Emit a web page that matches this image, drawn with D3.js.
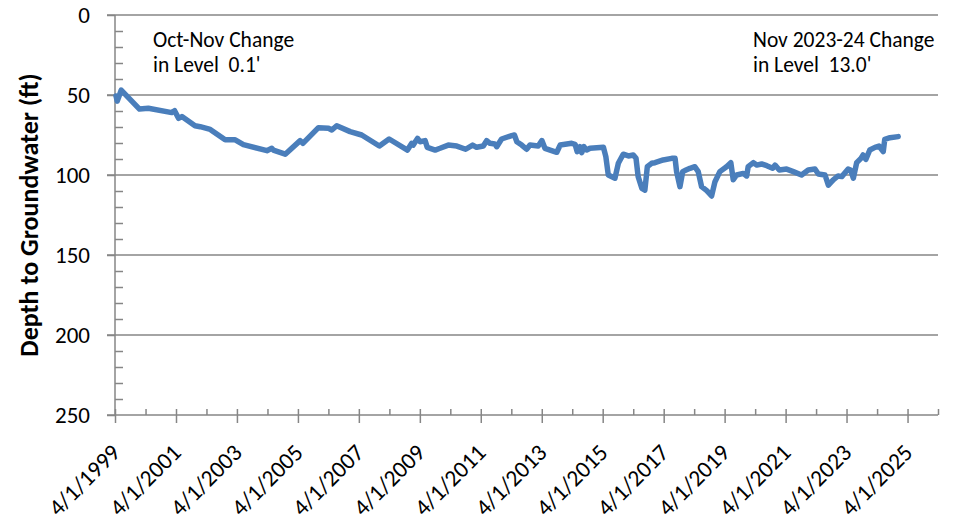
<!DOCTYPE html>
<html>
<head>
<meta charset="utf-8">
<script src="https://cdn.jsdelivr.net/npm/d3@7"></script>
<style>
  body { margin: 0; background: #fff; }
  svg { font-family: Carlito, Calibri, Lato, sans-serif; }
</style>
</head>
<body>
<div id="chart"></div>
<script>
var yearFrac = [
  1999.28, 1999.32, 1999.45, 2000.05, 2000.34, 2001.11, 2001.20, 2001.33, 2001.44, 2001.87,
  2002.04, 2002.37, 2002.86, 2003.19, 2003.46, 2004.23, 2004.39, 2004.44, 2004.83, 2005.32,
  2005.41, 2005.92, 2006.25, 2006.36, 2006.52, 2006.96, 2007.34, 2007.92, 2008.24, 2008.84,
  2008.98, 2009.03, 2009.17, 2009.25, 2009.42, 2009.49, 2009.75, 2009.91, 2010.18, 2010.46,
  2010.75, 2010.98, 2011.11, 2011.33, 2011.44, 2011.55, 2011.71, 2011.77, 2011.93, 2012.26,
  2012.35, 2012.43, 2012.59, 2012.75, 2012.86, 2013.13, 2013.25, 2013.35, 2013.74, 2013.85,
  2014.23, 2014.34, 2014.41, 2014.50, 2014.56, 2014.63, 2014.72, 2014.83, 2015.27, 2015.35,
  2015.43, 2015.65, 2015.76, 2015.92, 2016.09, 2016.25, 2016.34, 2016.41, 2016.53, 2016.63,
  2016.71, 2016.85, 2016.96, 2017.23, 2017.51, 2017.62, 2017.67, 2017.78, 2017.87, 2017.98,
  2018.11, 2018.27, 2018.38, 2018.49, 2018.66, 2018.82, 2018.93, 2019.09, 2019.31, 2019.45,
  2019.53, 2019.64, 2019.86, 2019.97, 2020.02, 2020.19, 2020.30, 2020.46, 2020.63, 2020.82,
  2020.90, 2021.04, 2021.28, 2021.50, 2021.77, 2021.99, 2022.21, 2022.32, 2022.54, 2022.65,
  2022.81, 2022.97, 2023.09, 2023.30, 2023.38, 2023.47, 2023.58, 2023.72, 2023.79, 2023.88,
  2024.01, 2024.18, 2024.31, 2024.45, 2024.50, 2024.67, 2024.94
];

// Depth to groundwater (ft)
var depthFt = [
  50.6, 53.8, 47.0, 58.8, 58.3, 61.0, 59.8, 64.6, 63.5, 69.2,
  69.8, 71.5, 78.0, 78.0, 81.0, 84.8, 83.3, 84.4, 87.0, 78.5,
  80.2, 70.4, 70.8, 71.9, 69.2, 72.9, 75.0, 81.9, 77.5, 84.4,
  80.2, 81.3, 77.1, 79.2, 78.5, 82.7, 84.4, 83.3, 81.3, 81.9,
  83.9, 81.3, 82.7, 81.9, 78.5, 80.2, 80.6, 82.3, 77.5, 75.4,
  75.0, 79.2, 81.3, 83.9, 81.3, 81.9, 78.5, 83.3, 85.8, 81.3,
  80.2, 80.8, 85.4, 82.3, 86.0, 82.3, 84.4, 83.3, 82.7, 88.5,
  100.0, 102.0, 92.7, 87.0, 88.1, 87.5, 89.6, 101.0, 108.3, 109.4,
  94.8, 92.7, 92.3, 90.6, 89.6, 89.6, 97.9, 107.3, 97.9, 96.9,
  95.8, 94.8, 97.9, 107.3, 109.8, 113.1, 104.2, 97.9, 94.8, 92.3,
  103.0, 100.0, 99.0, 100.6, 94.8, 92.3, 93.8, 93.1, 94.2, 95.8,
  93.8, 96.9, 96.3, 97.9, 100.0, 96.9, 96.3, 99.4, 100.0, 106.3,
  103.0, 100.6, 101.0, 96.3, 96.9, 102.0, 92.3, 89.6, 87.5, 90.2,
  84.4, 82.7, 81.9, 85.4, 77.7, 76.7, 76.0
];

// Axis settings
var xStartYear = 1999;
var xEndYear = 2026;
var yTicks = [0, 50, 100, 150, 200, 250];
var yTitle = "Depth to Groundwater (ft)";
var noteLeft = ["Oct-Nov Change", "in Level  0.1'"];
var noteRight = ["Nov 2023-24 Change", "in Level  13.0'"];

// SVG sizes
var width = 955;
var height = 525;
var plotLeft = 115;
var plotRight = 938;
var plotTop = 15;
var plotBottom = 415;
var gray = "#868686";

// turn decimal year into a Date
function toDate(yf) {
  var y = Math.floor(yf);
  var start = new Date(y, 0, 1);
  var end = new Date(y + 1, 0, 1);
  return new Date(start.getTime() + (yf - y) * (end - start));
}

var data = yearFrac.map(function(yf, i) {
  return { date: toDate(yf), depth: depthFt[i] };
});

var svg = d3.select("#chart")
  .append("svg")
  .attr("width", width)
  .attr("height", height);

var xScale = d3.scaleTime()
  .domain([new Date(xStartYear, 3, 1), new Date(xEndYear, 3, 1)])
  .range([plotLeft, plotRight]);

var yScale = d3.scaleLinear()
  .domain([0, 250])
  .range([plotTop, plotBottom]);

// Gridlines
svg.append("g")
  .selectAll("line")
  .data(yTicks.slice(0, -1))
  .enter()
  .append("line")
  .attr("x1", plotLeft - 8)
  .attr("x2", plotRight)
  .attr("y1", function(d) { return yScale(d); })
  .attr("y2", function(d) { return yScale(d); })
  .attr("stroke", gray)
  .attr("stroke-width", 1.5);

// y axis: major ticks outside, minor ticks inside
var yAxis = d3.axisLeft(yScale)
  .tickValues(yTicks)
  .tickSize(8)
  .tickPadding(17)
  .tickFormat(d3.format("d"));

var yG = svg.append("g")
  .attr("transform", `translate(${plotLeft}, 0)`)
  .call(yAxis);

var yMinor = d3.axisRight(yScale)
  .tickValues(d3.range(0, 251, 10).filter(function(d) { return d % 50 !== 0; }))
  .tickSize(8)
  .tickFormat("");

svg.append("g")
  .attr("transform", `translate(${plotLeft}, 0)`)
  .call(yMinor);

// x axis: major every 2 years crossing, minor every year inside
var majorDates = d3.range(xStartYear, xEndYear, 2).map(function(y) { return new Date(y, 3, 1); });
var minorDates = d3.range(xStartYear + 1, xEndYear + 1, 2).map(function(y) { return new Date(y, 3, 1); });

svg.append("g")
  .attr("transform", `translate(0, ${plotBottom})`)
  .call(d3.axisTop(xScale).tickValues(minorDates).tickSize(6).tickFormat(""));

var xAxis = d3.axisBottom(xScale)
  .tickValues(majorDates)
  .tickSize(8)
  .tickFormat(function(d) { return (d.getMonth() + 1) + "/" + d.getDate() + "/" + d.getFullYear(); });

var xG = svg.append("g")
  .attr("transform", `translate(0, ${plotBottom})`)
  .call(xAxis);

// upper half of the crossing major ticks
svg.append("g")
  .attr("transform", `translate(0, ${plotBottom})`)
  .call(d3.axisTop(xScale).tickValues(majorDates).tickSize(6).tickFormat(""));

// drop d3's default sans-serif so the labels use the page font
yG.attr("font-family", null);
xG.attr("font-family", null);

xG.selectAll("text")
  .attr("text-anchor", "end")
  .attr("dy", null)
  .attr("y", null)
  .attr("transform", "translate(6, 39) rotate(-45)")
  .attr("font-size", "23.5px")
  .attr("fill", "#000");

yG.selectAll("text").attr("font-size", "23px").attr("fill", "#000");

// style ticks, redraw the axis lines plainly
svg.selectAll(".tick line").attr("stroke", gray).attr("stroke-width", 1.5);
svg.selectAll(".domain").remove();
svg.append("line")
  .attr("x1", plotLeft).attr("x2", plotLeft)
  .attr("y1", plotTop).attr("y2", plotBottom)
  .attr("stroke", gray).attr("stroke-width", 1.5);
svg.append("line")
  .attr("x1", plotLeft - 8).attr("x2", plotRight)
  .attr("y1", plotBottom).attr("y2", plotBottom)
  .attr("stroke", gray).attr("stroke-width", 1.5);

// Line
var line = d3.line()
  .x(function(d) { return xScale(d.date); })
  .y(function(d) { return yScale(d.depth); });

svg.append("path")
  .datum(data)
  .attr("fill", "none")
  .attr("stroke", "#4a7ebb")
  .attr("stroke-width", 5.5)
  .attr("stroke-linejoin", "round")
  .attr("stroke-linecap", "round")
  .attr("d", line);

// y axis title
svg.append("text")
  .attr("transform", `translate(38, ${(plotTop + plotBottom) / 2}) rotate(-90)`)
  .attr("text-anchor", "middle")
  .attr("font-size", "26px")
  .attr("font-weight", "bold")
  .text(yTitle);

// notes
function addNote(lines, x) {
  svg.append("g")
    .selectAll("text")
    .data(lines)
    .enter()
    .append("text")
    .attr("x", x)
    .attr("y", function(d, i) { return 47 + i * 25; })
    .attr("font-size", "21.5px")
    .attr("fill", "#000")
    .style("white-space", "pre")
    .text(function(d) { return d; });
}
addNote(noteLeft, 153);
addNote(noteRight, 753);
</script>
</body>
</html>
